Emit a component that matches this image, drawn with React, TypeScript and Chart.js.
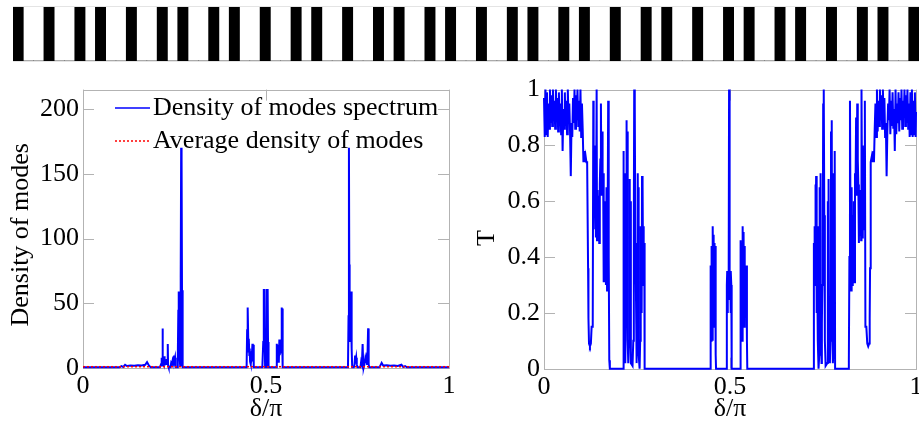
import React, { useEffect, useRef } from "react";
import { Chart, registerables } from "chart.js";

Chart.register(...registerables);

// ---------------- DATA ----------------
// Layer structure (1 = black layer, 0 = white layer), read left to right
const layerSequence =
  "1001001010010010100101001001010010010100101" +
  "00" +
  "1001010010100100101001001010010100100101001";

// Density of modes spectrum (x = δ/π, y = density)
const dosX = [
  0, 0.1, 0.105, 0.11, 0.115, 0.12, 0.13, 0.14, 0.15, 0.16, 0.17, 0.175, 0.18, 0.185,
  0.21, 0.2135, 0.215, 0.216, 0.217, 0.2178, 0.2185, 0.2192, 0.22, 0.221, 0.222, 0.223, 0.225, 0.227, 0.229,
  0.2305, 0.2316, 0.2325, 0.234, 0.239, 0.241, 0.243, 0.245, 0.247, 0.249, 0.25, 0.2515, 0.253,
  0.257, 0.259, 0.2605, 0.2612, 0.262, 0.2628, 0.2635, 0.2645, 0.2655, 0.2665, 0.2675, 0.2682, 0.269,
  0.2697, 0.2705, 0.2715, 0.273,
  0.447, 0.4485, 0.4492, 0.45, 0.4507, 0.4515, 0.4525, 0.4535, 0.4545, 0.4555, 0.4565, 0.4575, 0.459,
  0.461, 0.463, 0.464, 0.4655, 0.4665,
  0.49, 0.4925, 0.4935, 0.4945, 0.4955, 0.4965, 0.4975, 0.5005, 0.5015, 0.5025, 0.5035, 0.5045, 0.5055, 0.507,
  0.528, 0.5295, 0.5305, 0.5315, 0.5325, 0.534, 0.535, 0.5365, 0.5375, 0.539, 0.54, 0.5415, 0.5425, 0.5435,
  0.5442, 0.545, 0.546,
  0.724, 0.7255, 0.7266, 0.7275, 0.7285, 0.73, 0.7315, 0.7325, 0.7335, 0.7345, 0.7355,
  0.74, 0.742, 0.7435, 0.745, 0.7465, 0.748, 0.75,
  0.758, 0.76, 0.762, 0.764, 0.7655, 0.767, 0.769, 0.771, 0.7725, 0.774, 0.776, 0.7775, 0.779, 0.7805, 0.782,
  0.81, 0.816, 0.82, 0.83, 0.84, 0.85, 0.86, 0.87, 0.875, 0.88, 0.885, 1,
];
const dosY = [
  0.5, 0.5, 1.5, 0.8, 2.5, 1.5, 2.0, 1.8, 2.2, 2.0, 2.5, 4.5, 2.0, 0.5,
  0.5, 3, 8, 2, 30.6, 6, 9, 4, 8, 3, 9, 2, 5, 3, 7,
  3, 18.5, 2, 0.5, 0.5, 4, 3, 6, 4, 9.6, 6, 8, 0.5,
  0.5, 8, 45, 25, 59, 30, 55, 8, 2, 3, 70, 170, 90,
  160, 60, 3, 0.5,
  0.5, 30, 46.7, 20, 46, 22.5, 12, 22, 10, 15, 5, 13, 3,
  8, 18.7, 5, 18, 0.5,
  0.5, 20, 61, 30, 61, 61, 0.5, 0.5, 61, 61, 30, 61, 20, 0.5,
  0.5, 18.7, 5, 18, 8, 13, 4, 22, 10, 15, 22, 12, 30, 46.7,
  20, 46, 0.5,
  0.5, 40, 170, 80, 20, 40, 59, 35, 59, 15, 0.5,
  0.5, 3, 9.6, 5, 8, 3, 0.5,
  0.5, 5, 3, 18.5, 4, 0.5, 3, 7, 4, 7, 3, 12, 30.6, 3, 0.5,
  0.5, 4, 2, 2.2, 1.8, 2, 1.5, 2.5, 0.8, 1.5, 0.5, 0.5,
];
const avgDensity = 1;

// Transmission spectrum
const tX = [
  // left pass band
  0, 0.002, 0.004, 0.006, 0.008, 0.01, 0.012, 0.014, 0.016, 0.018, 0.02, 0.022, 0.024, 0.026, 0.028,
  0.03, 0.032, 0.034, 0.036, 0.038, 0.04, 0.042, 0.044, 0.046, 0.048, 0.05, 0.052, 0.054, 0.056, 0.058,
  0.06, 0.062, 0.064, 0.066, 0.068, 0.07, 0.072, 0.074, 0.076, 0.078, 0.08, 0.082, 0.084, 0.086, 0.088,
  0.09, 0.092, 0.094, 0.096, 0.098, 0.1, 0.102, 0.104, 0.106, 0.108, 0.11, 0.112, 0.114, 0.116,
  // dip and blob
  0.1175, 0.1185, 0.1195, 0.121, 0.1235, 0.126, 0.128, 0.131, 0.1325, 0.1335, 0.135, 0.1365, 0.138,
  0.1395, 0.1415, 0.1425, 0.144, 0.1455, 0.147, 0.1485, 0.15, 0.1515, 0.153, 0.1545, 0.156, 0.1575,
  0.159, 0.1605, 0.162, 0.1635, 0.165, 0.1665, 0.168, 0.1695, 0.171, 0.1725, 0.174, 0.1755, 0.177,
  // left group
  0.2125, 0.2135, 0.2145, 0.2155, 0.2165, 0.2175, 0.2185, 0.2205, 0.2215, 0.2225, 0.2235, 0.225, 0.2265,
  0.2285, 0.23, 0.231, 0.232, 0.2335, 0.238, 0.24, 0.2415, 0.2425, 0.2435, 0.2445, 0.2455, 0.247, 0.248,
  0.249, 0.251, 0.252, 0.253, 0.254, 0.255, 0.257, 0.2585, 0.2595, 0.2605, 0.2615, 0.2625, 0.2635,
  0.2645, 0.2655, 0.2665, 0.2675, 0.2685, 0.2695, 0.2705,
  // centre groups
  0.4465, 0.4475, 0.4485, 0.4492, 0.45, 0.451, 0.452, 0.453, 0.454, 0.455, 0.456, 0.457, 0.458, 0.459,
  0.46, 0.4615, 0.4625,
  0.49, 0.4915, 0.4925, 0.4935, 0.4945, 0.4955, 0.4965, 0.4975, 0.4985, 0.4995, 0.5005, 0.5015,
  0.5025, 0.5035, 0.5045,
  0.527, 0.528, 0.529, 0.5302, 0.5315, 0.5328, 0.534, 0.5352, 0.5365, 0.5378, 0.539, 0.5402, 0.5415,
  0.5428, 0.544, 0.5455, 0.5465,
  // right group
  0.7245, 0.7255, 0.7265, 0.7275, 0.7285, 0.7295, 0.7305, 0.7315, 0.7325, 0.7335, 0.7345, 0.7355,
  0.7365, 0.738, 0.74, 0.741, 0.742, 0.743, 0.744, 0.746, 0.747, 0.748, 0.7495, 0.7505, 0.7515, 0.7525,
  0.7535, 0.755, 0.757, 0.7615, 0.763, 0.764, 0.765, 0.7665, 0.7685, 0.77, 0.7715, 0.7725, 0.7735,
  0.7745, 0.7765, 0.7775, 0.7785, 0.7795, 0.7805, 0.7815, 0.7825,
  // blob and dip
  0.818, 0.8195, 0.821, 0.8225, 0.824, 0.8255, 0.827, 0.8285, 0.83, 0.8315, 0.833, 0.8345, 0.836,
  0.8375, 0.839, 0.8405, 0.842, 0.8435, 0.845, 0.8465, 0.848, 0.8495, 0.851, 0.8525, 0.8535, 0.8555,
  0.857, 0.8585, 0.86, 0.8615, 0.8625, 0.864, 0.8665, 0.869, 0.8715, 0.874, 0.8755, 0.8765, 0.8775,
  // right pass band
  0.879, 0.881, 0.883, 0.885, 0.887, 0.889, 0.891, 0.893, 0.895, 0.897, 0.899, 0.901, 0.903, 0.905,
  0.907, 0.909, 0.911, 0.913, 0.915, 0.917, 0.919, 0.921, 0.923, 0.925, 0.927, 0.929, 0.931, 0.933,
  0.935, 0.937, 0.939, 0.941, 0.943, 0.945, 0.947, 0.949, 0.951, 0.953, 0.955, 0.957, 0.959, 0.961,
  0.963, 0.965, 0.967, 0.969, 0.971, 0.973, 0.975, 0.977, 0.979, 0.981, 0.983, 0.985, 0.987, 0.989,
  0.991, 0.993, 0.995, 0.997, 0.999, 1,
];
const tY = [
  // left pass band
  0.97, 0.83, 1.0, 0.84, 0.99, 0.83, 0.95, 0.86, 1.0, 0.88, 0.98, 0.87, 1.0, 0.9, 0.96,
  0.86, 1.0, 0.89, 0.97, 0.85, 0.99, 0.88, 0.95, 0.84, 1.0, 0.78, 0.93, 0.86, 0.99, 0.87,
  0.96, 0.84, 1.0, 0.89, 0.95, 0.85, 0.69, 0.88, 0.83, 0.97, 0.88, 1.0, 0.86, 0.98, 0.89,
  1.0, 0.87, 0.96, 0.85, 1.0, 0.83, 0.95, 0.86, 0.74, 0.78, 0.74, 0.76, 0.74, 0.74,
  // dip and blob
  0.74, 0.36, 0.18, 0.09, 0.08, 0.09, 0.15, 0.15, 0.96, 0.5, 0.75, 0.55, 0.8,
  0.47, 1.0, 0.46, 0.64, 0.48, 0.62, 0.45, 0.66, 0.75, 0.95, 0.62, 0.85, 0.65,
  0.7, 0.31, 0.6, 0.31, 0.55, 0.3, 0.65, 0.28, 0.5, 0.96, 0.4, 0.03, 0.0,
  // left group
  0.0, 0.78, 0.3, 0.7, 0.27, 0.05, 0.02, 0.28, 0.89, 0.3, 0.85, 0.1, 0.02,
  0.1, 0.68, 0.3, 0.6, 0.02, 0.01, 0.1, 0.55, 1.0, 0.6, 0.95, 0.45, 0.3, 0.16,
  0.02, 0.3, 0.7, 0.4, 0.65, 0.05, 0.0, 0.1, 0.51, 0.35, 0.48, 0.2, 0.69,
  0.4, 0.66, 0.3, 0.51, 0.35, 0.45, 0.0,
  // centre groups
  0.0, 0.3, 0.37, 0.1, 0.44, 0.2, 0.37, 0.1, 0.51, 0.25, 0.48, 0.15, 0.45, 0.2,
  0.44, 0.05, 0.0,
  0.0, 0.3, 0.35, 0.2, 0.35, 0.25, 0.35, 1.0, 0.35, 0.25, 0.35, 0.2,
  0.35, 0.3, 0.0,
  0.0, 0.35, 0.46, 0.2, 0.44, 0.1, 0.51, 0.25, 0.49, 0.15, 0.44, 0.2, 0.37,
  0.3, 0.37, 0.1, 0.0,
  // right group
  0.0, 0.45, 0.35, 0.51, 0.3, 0.66, 0.4, 0.69, 0.2, 0.48, 0.35, 0.51,
  0.1, 0.0, 0.05, 0.65, 0.4, 0.7, 0.3, 0.02, 0.16, 0.3, 0.45, 0.95, 0.6, 1.0,
  0.55, 0.1, 0.01, 0.02, 0.6, 0.3, 0.68, 0.1, 0.02, 0.1, 0.85, 0.3, 0.89,
  0.28, 0.02, 0.05, 0.27, 0.7, 0.3, 0.78, 0.0,
  // blob and dip
  0.0, 0.03, 0.4, 0.96, 0.5, 0.28, 0.65, 0.3, 0.55, 0.31, 0.6, 0.31, 0.7,
  0.65, 0.9, 0.62, 0.95, 0.75, 0.66, 0.45, 0.62, 0.48, 0.64, 0.46, 1.0, 0.47,
  0.8, 0.55, 0.75, 0.5, 0.96, 0.15, 0.15, 0.09, 0.08, 0.09, 0.18, 0.36, 0.74,
  // right pass band
  0.74, 0.76, 0.74, 0.78, 0.74, 0.86, 0.95, 0.83, 1.0, 0.85, 0.96, 0.87, 1.0, 0.89,
  0.98, 0.86, 1.0, 0.88, 0.97, 0.83, 0.88, 0.69, 0.85, 0.95, 0.89, 1.0, 0.84, 0.96,
  0.87, 0.99, 0.86, 0.93, 0.78, 1.0, 0.84, 0.95, 0.88, 0.99, 0.85, 0.97, 0.89, 1.0,
  0.86, 0.96, 0.9, 1.0, 0.87, 0.98, 0.88, 1.0, 0.86, 0.95, 0.83, 0.99, 0.84, 1.0,
  0.83, 0.96, 0.84, 0.99, 0.83, 0.92,
];

const dosXTicks = [0, 0.5, 1];
const dosYTicks = [0, 50, 100, 150, 200];
const tXTicks = [0, 0.5, 1];
const tYTicks = [0, 0.2, 0.4, 0.6, 0.8, 1];

const legendLabels = ["Density of modes spectrum", "Average density of modes"];
const dosYTitle = "Density of modes";
const tYTitle = "T";
const xTitle = "δ/π";

// ---------------- STYLE ----------------
const SERIF = "'Liberation Serif', 'Times New Roman', Times, serif";
const FONT_SIZE = 26;
const FRAME_COLOR = "#b3b3b3";
const BLUE = "#0000ff";
const RED = "#ff0000";

const fmt = (v: number) => Number(v.toFixed(2)).toString();

const framePlugin = {
  id: "matlabFrame",
  beforeDatasetsDraw(chart: any) {
    const { ctx, chartArea } = chart;
    const { left, right, top, bottom } = chartArea;
    const tl = 11;
    ctx.save();
    ctx.strokeStyle = FRAME_COLOR;
    ctx.lineWidth = 1;
    ctx.strokeRect(Math.round(left) + 0.5, Math.round(top) + 0.5, Math.round(right - left), Math.round(bottom - top));
    ctx.beginPath();
    const xs = chart.scales.x;
    xs.ticks.forEach((t: any) => {
      const px = Math.round(xs.getPixelForValue(t.value)) + 0.5;
      ctx.moveTo(px, bottom);
      ctx.lineTo(px, bottom - tl);
      ctx.moveTo(px, top);
      ctx.lineTo(px, top + tl);
    });
    const ys = chart.scales.y;
    ys.ticks.forEach((t: any) => {
      const py = Math.round(ys.getPixelForValue(t.value)) + 0.5;
      ctx.moveTo(left, py);
      ctx.lineTo(left + tl, py);
      ctx.moveTo(right, py);
      ctx.lineTo(right - tl, py);
    });
    ctx.stroke();
    ctx.restore();
  },
};

const yTitlePlugin = {
  id: "yTitle",
  afterDraw(chart: any, _args: any, opts: any) {
    const { ctx, chartArea } = chart;
    const cy = (chartArea.top + chartArea.bottom) / 2 + (opts.dy || 0);
    ctx.save();
    ctx.translate(opts.x, cy);
    ctx.rotate(-Math.PI / 2);
    ctx.font = `${FONT_SIZE}px ${SERIF}`;
    ctx.fillStyle = "#000";
    ctx.textAlign = "center";
    ctx.textBaseline = "middle";
    ctx.fillText(opts.text, 0, 0);
    ctx.restore();
  },
};

const legendPlugin = {
  id: "insideLegend",
  afterDatasetsDraw(chart: any) {
    const { ctx } = chart;
    const lx0 = 115;
    const lx1 = 150;
    const tx = 153;
    const rows = [38, 71];
    ctx.save();
    ctx.font = `${FONT_SIZE}px ${SERIF}`;
    ctx.textBaseline = "middle";
    ctx.fillStyle = "#000";
    chart.data.datasets.forEach((ds: any, i: number) => {
      const y = rows[i];
      ctx.beginPath();
      ctx.strokeStyle = ds.borderColor;
      ctx.lineWidth = 1.5;
      ctx.setLineDash(ds.borderDash || []);
      ctx.moveTo(lx0, y);
      ctx.lineTo(lx1, y);
      ctx.stroke();
      ctx.setLineDash([]);
      ctx.fillText(ds.label, tx, y);
    });
    ctx.restore();
  },
};

function axisCommon(ticks: number[], fixedSize: number, horizontal: boolean, title: string | null) {
  return {
    type: "linear" as const,
    afterBuildTicks: (s: any) => {
      s.ticks = ticks.map((v) => ({ value: v }));
    },
    afterFit: (s: any) => {
      if (horizontal) s.height = fixedSize;
      else s.width = fixedSize;
    },
    grid: { display: false, drawTicks: false },
    border: { display: false },
    ticks: {
      color: "#000",
      font: { family: SERIF, size: FONT_SIZE },
      padding: horizontal ? 3 : 4,
      autoSkip: false,
      maxRotation: 0,
      callback: (v: any) => fmt(Number(v)),
    },
    title: {
      display: !!title,
      text: title || "",
      color: "#000",
      font: { family: SERIF, size: FONT_SIZE },
      padding: { top: 0, bottom: 3 },
    },
  };
}

function useChart(ref: React.RefObject<HTMLCanvasElement>, makeConfig: () => any) {
  useEffect(() => {
    if (!ref.current) return;
    const chart = new Chart(ref.current, makeConfig());
    return () => chart.destroy();
  }, []);
}

export default function App() {
  const stripRef = useRef<HTMLCanvasElement>(null);
  const dosRef = useRef<HTMLCanvasElement>(null);
  const tRef = useRef<HTMLCanvasElement>(null);

  useChart(stripRef, () => {
    const layers = layerSequence.split("").map((c) => Number(c));
    return {
      type: "bar",
      data: {
        labels: layers.map((_, i) => String(i)),
        datasets: [
          {
            data: layers,
            backgroundColor: "#000",
            borderWidth: 0,
            barPercentage: 1,
            categoryPercentage: 1,
          },
        ],
      },
      options: {
        animation: false,
        responsive: false,
        events: [],
        layout: { padding: 0 },
        plugins: { legend: { display: false }, tooltip: { enabled: false } },
        scales: {
          x: { display: false, offset: true },
          y: { display: false, min: 0, max: 1 },
        },
      },
    };
  });

  useChart(dosRef, () => ({
    type: "line",
    data: {
      datasets: [
        {
          label: legendLabels[0],
          data: dosX.map((x, i) => ({ x, y: dosY[i] })),
          borderColor: BLUE,
          borderWidth: 2,
          pointRadius: 0,
          tension: 0,
          clip: false,
          order: 2,
        },
        {
          label: legendLabels[1],
          data: [
            { x: 0, y: avgDensity },
            { x: 1, y: avgDensity },
          ],
          borderColor: RED,
          borderWidth: 1.5,
          borderDash: [2, 2],
          pointRadius: 0,
          clip: false,
          order: 1,
        },
      ],
    },
    options: {
      animation: false,
      responsive: false,
      events: [],
      layout: { padding: { left: 0, top: 13, right: 11, bottom: 0 } },
      plugins: {
        legend: { display: false },
        tooltip: { enabled: false },
        yTitle: { text: dosYTitle, x: 21, dy: 6 },
      },
      scales: {
        x: { ...axisCommon(dosXTicks, 60, true, xTitle), min: 0, max: 1 },
        y: { ...axisCommon(dosYTicks, 83, false, null), min: 0, max: 215 },
      },
    },
    plugins: [framePlugin, legendPlugin, yTitlePlugin],
  }));

  useChart(tRef, () => ({
    type: "line",
    data: {
      datasets: [
        {
          label: "T",
          data: tX.map((x, i) => ({ x, y: tY[i] })),
          borderColor: BLUE,
          borderWidth: 2,
          pointRadius: 0,
          tension: 0,
          clip: false,
        },
      ],
    },
    options: {
      animation: false,
      responsive: false,
      events: [],
      layout: { padding: { left: 0, top: 14.5, right: 14, bottom: 0 } },
      plugins: {
        legend: { display: false },
        tooltip: { enabled: false },
        yTitle: { text: tYTitle, x: 27, dy: 9 },
      },
      scales: {
        x: { ...axisCommon(tXTicks, 59.3, true, xTitle), min: 0, max: 1 },
        y: { ...axisCommon(tYTicks, 84, false, null), min: 0, max: 1 },
      },
    },
    plugins: [framePlugin, yTitlePlugin],
  }));

  return (
    <div
      style={{
        position: "absolute",
        left: 0,
        top: 0,
        width: 919,
        height: 428,
        overflow: "hidden",
        background: "#fff",
      }}
    >
      <div
        style={{
          position: "absolute",
          left: 13,
          top: 6,
          width: 906,
          height: 54,
          borderTop: "1px solid #e4e4e4",
          borderBottom: "1px solid #e4e4e4",
        }}
      >
        <canvas ref={stripRef} width={906} height={54} style={{ display: "block" }} />
      </div>
      <canvas
        ref={dosRef}
        width={460}
        height={358}
        style={{ position: "absolute", left: 0, top: 70, display: "block" }}
      />
      <canvas
        ref={tRef}
        width={470}
        height={358}
        style={{ position: "absolute", left: 460, top: 70, display: "block" }}
      />
    </div>
  );
}
